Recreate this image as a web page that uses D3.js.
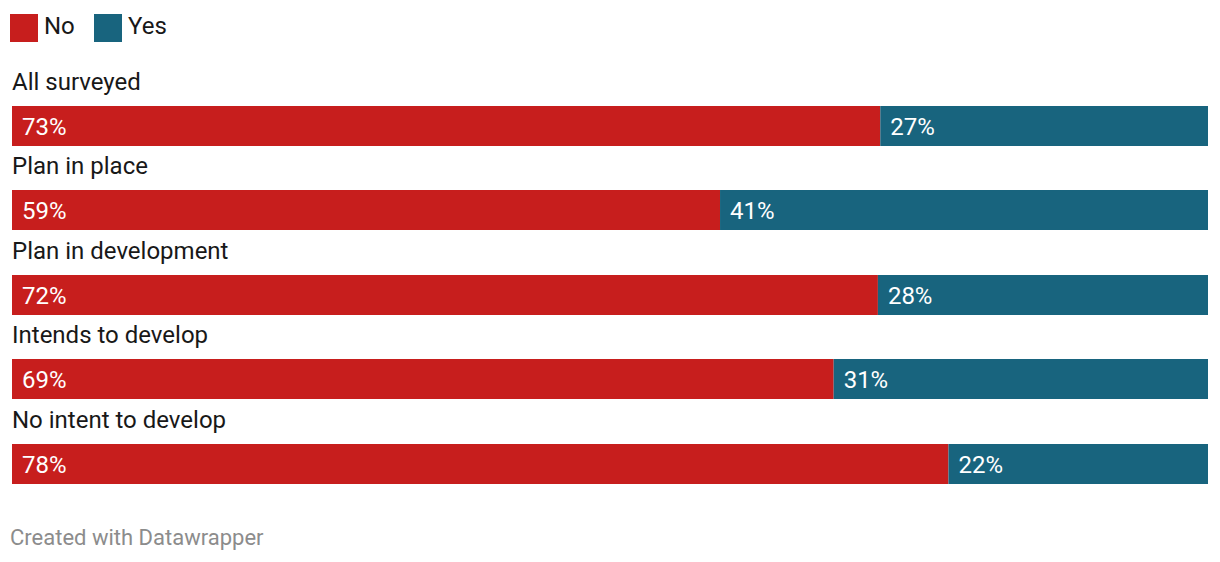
<!DOCTYPE html>
<html>
<head>
<meta charset="utf-8">
<script src="https://cdn.jsdelivr.net/npm/d3@7"></script>
<style>
  body { margin: 0; background: #fff; }
  svg { display: block; font-family: Roboto, sans-serif; }
</style>
</head>
<body>
<div id="chart"></div>
<script>
// groups and shares (percent)
const groups = ["All surveyed", "Plan in place", "Plan in development", "Intends to develop", "No intent to develop"];
const noValues = [72.6, 59.2, 72.4, 68.7, 78.3];
const yesValues = noValues.map(v => 100 - v);
const noLabels = ["73%", "59%", "72%", "69%", "78%"];
const yesLabels = ["27%", "41%", "28%", "31%", "22%"];
const seriesNames = ["No", "Yes"];
const colors = ["#c71e1d", "#18647e"];

const width = 1220, height = 562;
const fontSize = 24;

const svg = d3.select("#chart").append("svg")
  .attr("width", width)
  .attr("height", height);

// legend
const legend = svg.append("g");
const legendX = [10, 94];
seriesNames.forEach((name, i) => {
  legend.append("rect")
    .attr("x", legendX[i]).attr("y", 14)
    .attr("width", 28).attr("height", 28)
    .attr("fill", colors[i]);
  legend.append("text")
    .attr("x", legendX[i] + 34).attr("y", 34)
    .attr("font-size", fontSize)
    .attr("fill", "#181818")
    .text(name);
});

// scales
const x = d3.scaleLinear().domain([0, 100]).range([12, 1208]);
// row top of each bar, pitch ~84.5px
const y = d3.scaleLinear().domain([0, groups.length - 1]).range([106, 444]);
const barH = 40;

const rows = svg.append("g").selectAll("g")
  .data(groups)
  .join("g")
  .attr("transform", (d, i) => `translate(0,${Math.floor(y(i))})`);

rows.append("text")
  .attr("x", 12).attr("y", -16)
  .attr("font-size", fontSize)
  .attr("fill", "#181818")
  .text(d => d);

rows.append("rect")
  .attr("x", x(0))
  .attr("y", 0)
  .attr("width", (d, i) => x(noValues[i]) - x(0))
  .attr("height", barH)
  .attr("fill", colors[0]);

rows.append("rect")
  .attr("x", (d, i) => x(noValues[i]))
  .attr("y", 0)
  .attr("width", (d, i) => x(noValues[i] + yesValues[i]) - x(noValues[i]))
  .attr("height", barH)
  .attr("fill", colors[1]);

rows.append("text")
  .attr("x", x(0) + 10)
  .attr("y", 28.5)
  .attr("font-size", fontSize)
  .attr("fill", "#fff")
  .text((d, i) => noLabels[i]);

rows.append("text")
  .attr("x", (d, i) => x(noValues[i]) + 10)
  .attr("y", 28.5)
  .attr("font-size", fontSize)
  .attr("fill", "#fff")
  .text((d, i) => yesLabels[i]);

// footer
svg.append("text")
  .attr("x", 10).attr("y", 545)
  .attr("font-size", 22)
  .attr("fill", "#8c8c8c")
  .text("Created with Datawrapper");
</script>
</body>
</html>
